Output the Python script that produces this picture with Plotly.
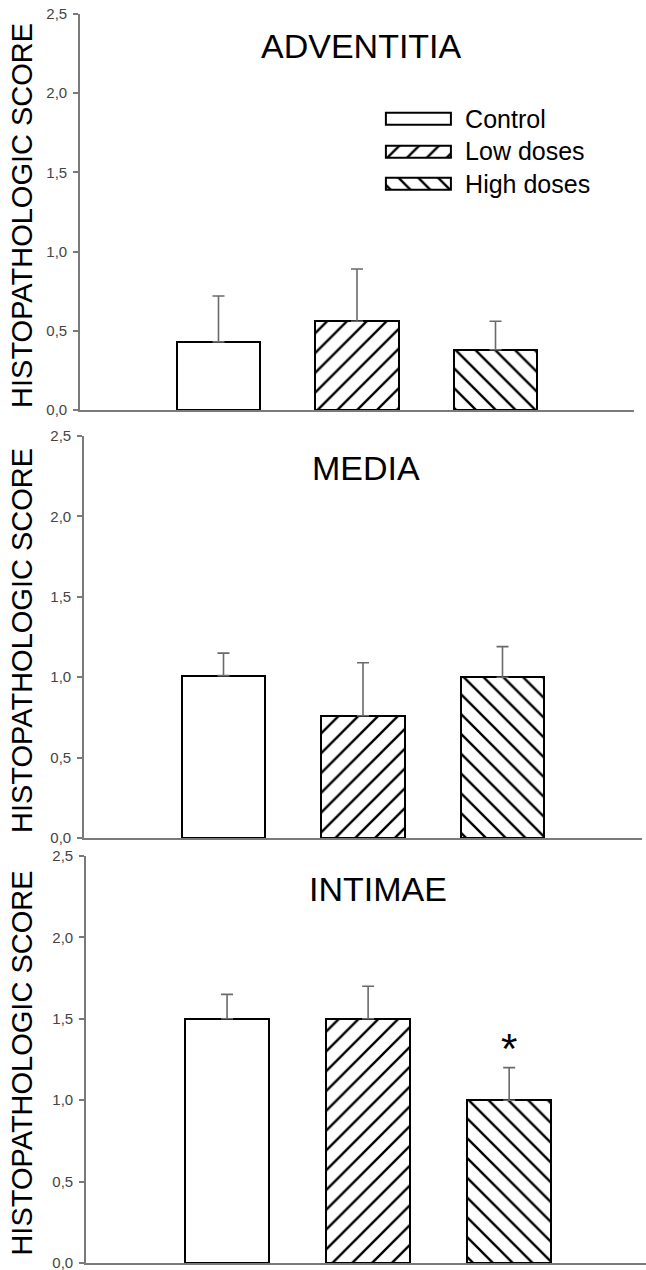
import plotly.graph_objects as go

# ---------------- data ----------------
groups = ["Control", "Low doses", "High doses"]
patterns = ["", "/", "\\"]
panels = ["ADVENTITIA", "MEDIA", "INTIMAE"]

adventitia_mean = [0.43, 0.56, 0.38]
adventitia_sd = [0.29, 0.33, 0.18]
media_mean = [1.01, 0.76, 1.00]
media_sd = [0.14, 0.33, 0.19]
intimae_mean = [1.50, 1.50, 1.00]
intimae_sd = [0.15, 0.20, 0.20]

means = [adventitia_mean, media_mean, intimae_mean]
sds = [adventitia_sd, media_sd, intimae_sd]

y_tickvals = [0.0, 0.5, 1.0, 1.5, 2.0, 2.5]
y_ticktext = ["0,0", "0,5", "1,0", "1,5", "2,0", "2,5"]
significant = [None, None, [2]]  # index of bars marked with *

# ---------------- layout geometry ----------------
W, H = 646, 1270
FONT = "Liberation Sans, Arial, Helvetica, sans-serif"

def ydom(top_px, bot_px):
    return [1 - bot_px / H, 1 - top_px / H]

x_domains = [[80 / W, 634 / W], [84 / W, 642 / W], [86 / W, 1.0]]
y_domains = [ydom(14, 410), ydom(436, 838), ydom(856, 1263)]
x_ranges = [[-1, 3], [-1, 3], [-1, 2.97]]
title_x = [1.03, 1.02, 1.07]

PATTERN = dict(size=14, solidity=0.17, fgcolor="#000000", bgcolor="white",
               fgopacity=1, fillmode="replace")

fig = go.Figure()
layout = dict(
    width=W, height=H,
    margin=dict(l=0, r=0, t=0, b=0, autoexpand=False),
    paper_bgcolor="white", plot_bgcolor="white",
    showlegend=False,
    font=dict(family=FONT, color="black"),
    bargap=0,
)

annotations = []
for p in range(3):
    xa = "x" if p == 0 else f"x{p+1}"
    ya = "y" if p == 0 else f"y{p+1}"
    for g in range(3):
        fig.add_trace(go.Bar(
            x=[g], y=[means[p][g]], width=0.6,
            xaxis=xa, yaxis=ya,
            marker=dict(
                color="white",
                line=dict(color="black", width=2),
                pattern=dict(shape=patterns[g], **PATTERN),
            ),
            error_y=dict(type="data", symmetric=False, array=[sds[p][g]],
                         arrayminus=[0], color="#6a6a6a", thickness=1.6, width=6),
            name=groups[g], hoverinfo="skip",
        ))
    key = "" if p == 0 else str(p + 1)
    layout["xaxis" + key] = dict(
        domain=x_domains[p], range=x_ranges[p], anchor=ya,
        showline=True, linecolor="#7a7a7a", linewidth=1.6,
        showgrid=False, zeroline=False, ticks="", showticklabels=False,
        automargin=False, fixedrange=True,
    )
    layout["yaxis" + key] = dict(
        domain=y_domains[p], range=[0, 2.5], anchor=xa,
        showline=True, linecolor="#7a7a7a", linewidth=1.6,
        showgrid=False, zeroline=False,
        ticks="outside", ticklen=5, tickwidth=1.5, tickcolor="#7a7a7a",
        tickvals=y_tickvals, ticktext=y_ticktext,
        tickfont=dict(size=15, color="#444444", family=FONT),
        ticklabelstandoff=3, ticklabeloverflow="allow",
        automargin=False, fixedrange=True,
    )
    # panel title
    annotations.append(dict(
        text=panels[p], x=title_x[p], y=2.3, xref=xa, yref=ya,
        xanchor="center", yanchor="middle", showarrow=False,
        font=dict(size=34, color="black", family=FONT),
    ))
    # y-axis title
    annotations.append(dict(
        text="HISTOPATHOLOGIC SCORE", x=22 / W, y=0.49,
        xref="paper", yref=f"{ya} domain",
        xanchor="center", yanchor="middle", textangle=-90, showarrow=False,
        font=dict(size=29, color="black", family=FONT),
    ))
    if significant[p]:
        for g in significant[p]:
            annotations.append(dict(
                text="*", x=g, y=means[p][g] + sds[p][g], xref=xa, yref=ya,
                xanchor="center", yanchor="middle", yshift=19, showarrow=False,
                font=dict(size=42, color="black", family=FONT),
            ))

# ---------------- legend (drawn on its own small axes) ----------------
for g in range(3):
    fig.add_trace(go.Bar(
        x=[1], y=[g], base=0, orientation="h", width=0.37,
        xaxis="x4", yaxis="y4",
        marker=dict(
            color="white",
            line=dict(color="black", width=2),
            pattern=dict(shape=patterns[g], **PATTERN),
        ),
        name=groups[g], hoverinfo="skip",
    ))
layout["xaxis4"] = dict(
    domain=[382.9 / W, 454.1 / W], range=[-0.05, 1.05], anchor="y4",
    visible=False, fixedrange=True, automargin=False,
)
layout["yaxis4"] = dict(
    domain=ydom(102.75, 200.25), range=[2.5, -0.5], anchor="x4", side="right",
    showline=False, showgrid=False, zeroline=False, ticks="",
    tickvals=[0, 1, 2], ticktext=groups,
    tickfont=dict(size=25, color="black", family=FONT),
    ticklabelstandoff=10, fixedrange=True, automargin=False,
)

layout["annotations"] = annotations
fig.update_layout(**layout)
fig.write_html("out.html")
